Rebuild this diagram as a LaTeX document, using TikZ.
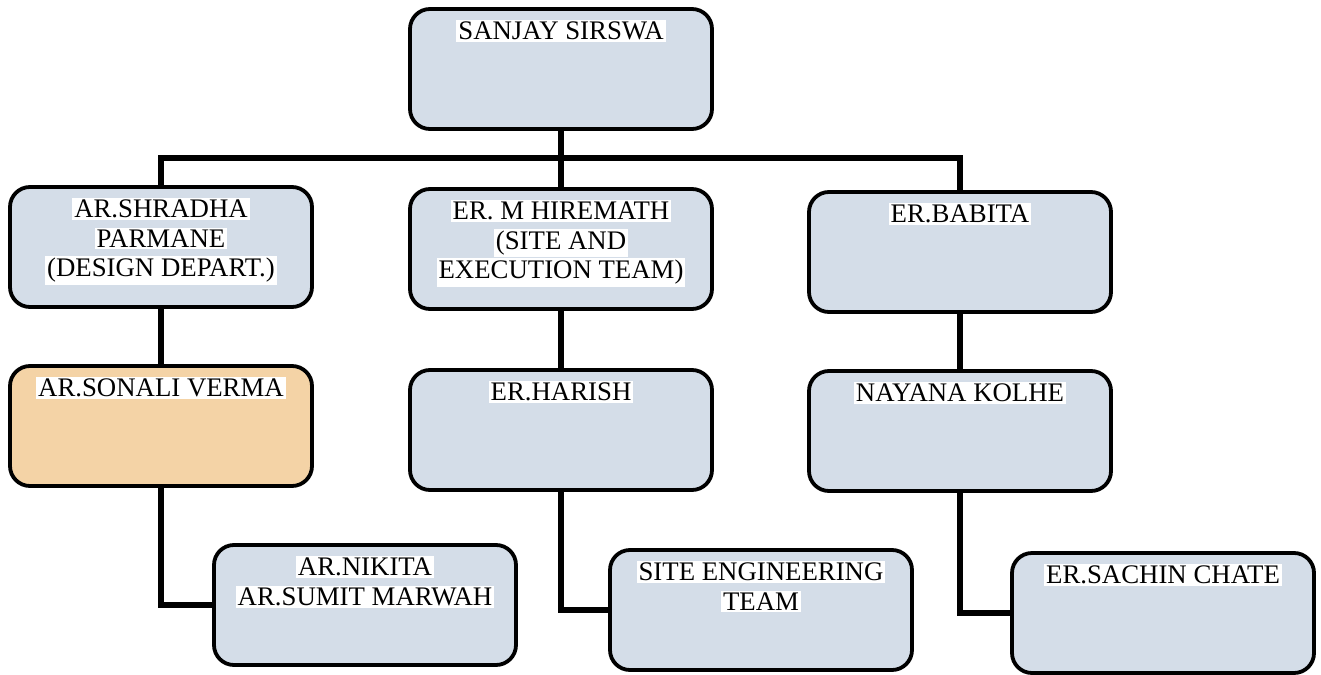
\documentclass[tikz,border=0pt]{standalone}
\usepackage{fontspec}
\setmainfont{Liberation Serif}
\usepackage{xcolor}
\definecolor{boxblue}{RGB}{212,221,232}
\definecolor{boxpeach}{RGB}{244,211,166}
\newcommand{\hl}[1]{{\setlength{\fboxsep}{1pt}\colorbox{white}{#1}}}
\newcommand{\boxtxt}[1]{\parbox[c][60pt][t]{151pt}{\vspace*{5.5pt}\centering #1}}

\begin{document}
\begin{tikzpicture}[x=0.5pt,y=-0.5pt,
  orgbox/.style={draw, line width=1.9pt, rounded corners=10pt, fill=boxblue,
    inner sep=0pt, font=\fontsize{13.4}{14.8}\selectfont},
  orgline/.style={line width=2.8pt}]
\useasboundingbox (0,0) rectangle (1321,674);
% top of the chart
\node[orgbox] (sanjay) at (561,69) {\boxtxt{\hl{SANJAY SIRSWA}}};
\coordinate (bus) at (561,158);
% first row
\node[orgbox] (shradha) at (161,247) {\boxtxt{\hl{AR.SHRADHA}\\\hl{PARMANE}\\\hl{(DESIGN DEPART.)}}};
\node[orgbox] (hiremath) at (561,249) {\boxtxt{\hl{ER. M HIREMATH}\\\hl{(SITE AND}\\\hl{EXECUTION TEAM)}}};
\node[orgbox] (babita) at (960,252) {\boxtxt{\hl{ER.BABITA}}};
% second row
\node[orgbox, fill=boxpeach] (sonali) at (161,426) {\boxtxt{\hl{AR.SONALI VERMA}}};
\node[orgbox] (harish) at (561,430) {\boxtxt{\hl{ER.HARISH}}};
\node[orgbox] (nayana) at (960,431) {\boxtxt{\hl{NAYANA KOLHE}}};
% third row
\node[orgbox] (nikita) at (365,605) {\boxtxt{\hl{AR.NIKITA}\\\hl{AR.SUMIT MARWAH}}};
\node[orgbox] (site) at (761,610) {\boxtxt{\hl{SITE ENGINEERING}\\\hl{TEAM}}};
\node[orgbox] (sachin) at (1163,613) {\boxtxt{\hl{ER.SACHIN CHATE}}};
% connectors
\draw[orgline] (sanjay.south) -- (bus);
\draw[orgline] (shradha.north) |- (bus) -| (babita.north);
\draw[orgline] (bus) -- (hiremath.north);
\draw[orgline] (shradha.south) -- (sonali.north);
\draw[orgline] (hiremath.south) -- (harish.north);
\draw[orgline] (babita.south) -- (nayana.north);
\draw[orgline] (sonali.south) |- (nikita.west);
\draw[orgline] (harish.south) |- (site.west);
\draw[orgline] (nayana.south) |- (sachin.west);
\end{tikzpicture}
\end{document}
